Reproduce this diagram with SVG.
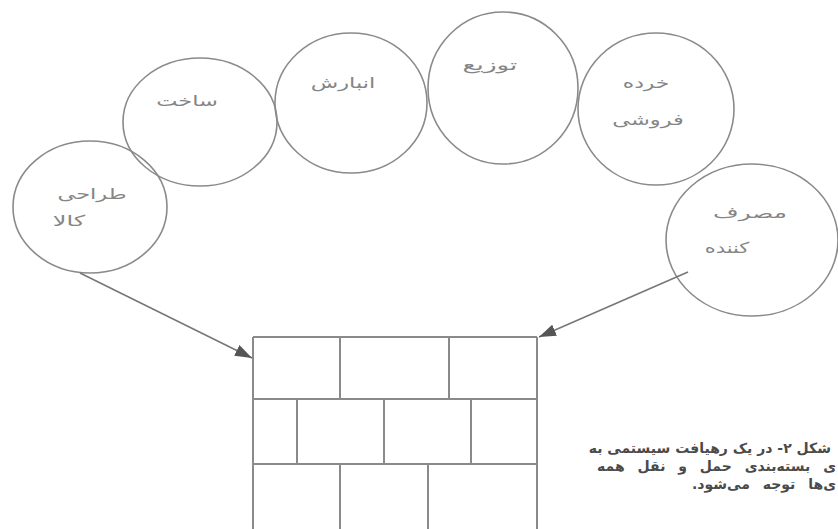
<svg xmlns="http://www.w3.org/2000/svg" width="838" height="529" viewBox="0 0 838 529">
<defs>
<style>
.node ellipse{fill:none;stroke:#8a8a8a;stroke-width:1.6}
.lbl{font-family:"DejaVu Sans",sans-serif;font-size:15px;fill:#858585;text-anchor:middle}
.wall line{stroke:#8a8a8a;stroke-width:2}
.conn{stroke:#777;stroke-width:1.6;fill:none;marker-end:url(#ah)}
.cap{font-family:"DejaVu Sans",sans-serif;font-size:14px;font-weight:bold;fill:#4a4a4a;text-anchor:end}
</style>
<marker id="ah" viewBox="0 0 10 10" refX="10" refY="5" markerWidth="17" markerHeight="12" markerUnits="userSpaceOnUse" orient="auto" preserveAspectRatio="none">
<path d="M0,0 L10,5 L0,10 Z" fill="#555"/>
</marker>
</defs>
<rect width="838" height="529" fill="#fff"/>
<g id="n-design" class="node">
<ellipse cx="90" cy="207" rx="77" ry="66"/>
<text class="lbl" transform="translate(92 199) scale(1.5 1)">طراحی</text>
<text class="lbl" transform="translate(69 226) scale(1.6 1)">کالا</text>
</g>
<g id="n-make" class="node">
<ellipse cx="200" cy="122" rx="77" ry="64"/>
<text class="lbl" transform="translate(187 106) scale(1.5 1)">ساخت</text>
</g>
<g id="n-store" class="node">
<ellipse cx="351" cy="103" rx="76" ry="70"/>
<text class="lbl" transform="translate(343 88) scale(1.5 1)">انبارش</text>
</g>
<g id="n-distribute" class="node">
<ellipse cx="503" cy="88" rx="75" ry="76"/>
<text class="lbl" transform="translate(490 70) scale(1.75 1)">توزیع</text>
</g>
<g id="n-retail" class="node">
<ellipse cx="656" cy="109" rx="78" ry="76"/>
<text class="lbl" transform="translate(646 88) scale(1.45 1)">خرده</text>
<text class="lbl" transform="translate(648 125) scale(1.5 1)">فروشی</text>
</g>
<g id="n-consumer" class="node">
<ellipse cx="752" cy="240" rx="86" ry="76"/>
<text class="lbl" transform="translate(750 218) scale(1.65 1)">مصرف</text>
<text class="lbl" transform="translate(727 253) scale(1.4 1)">کننده</text>
</g>
<g id="n-wall" class="wall">
<line x1="253" y1="337" x2="537" y2="337"/>
<line x1="253" y1="399" x2="537" y2="399"/>
<line x1="253" y1="464" x2="537" y2="464"/>
<line x1="253" y1="337" x2="253" y2="529"/>
<line x1="537" y1="337" x2="537" y2="529"/>
<line x1="340" y1="337" x2="340" y2="399"/>
<line x1="449" y1="337" x2="449" y2="399"/>
<line x1="297" y1="399" x2="297" y2="464"/>
<line x1="384" y1="399" x2="384" y2="464"/>
<line x1="471" y1="399" x2="471" y2="464"/>
<line x1="340" y1="464" x2="340" y2="529"/>
<line x1="428" y1="464" x2="428" y2="529"/>
</g>
<g id="connectors">
<line class="conn" x1="80" y1="273" x2="252" y2="358"/>
<line class="conn" x1="688" y1="272" x2="539" y2="337"/>
</g>
<g id="caption">
<text class="cap" x="831" y="453">شکل ۲- در یک رهیافت سیستمی به</text>
<text class="cap" x="836" y="471" word-spacing="8">ی بسته‌بندی حمل و نقل همه</text>
<text class="cap" x="836" y="489" word-spacing="8">ی‌ها توجه می‌شود.&#x200F;</text>
</g>
</svg>
